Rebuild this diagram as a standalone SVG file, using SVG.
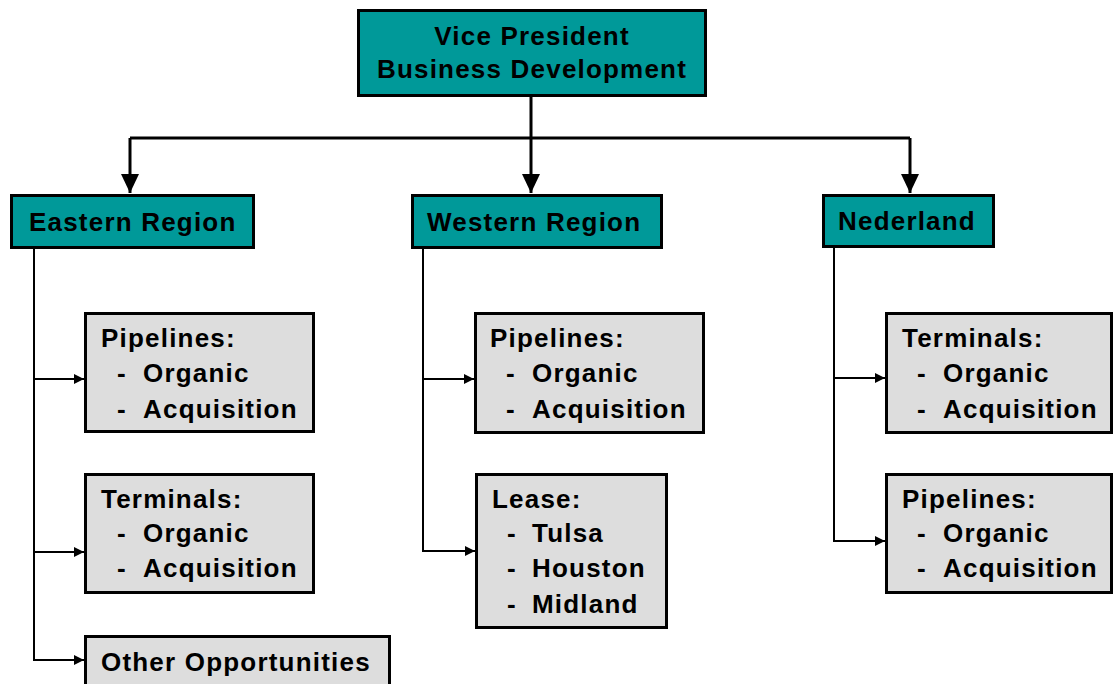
<svg xmlns="http://www.w3.org/2000/svg" width="1114" height="684" viewBox="0 0 1114 684">
<style>
.top{fill:#009999;stroke:#000;stroke-width:3}
.sub{fill:#DDDDDD;stroke:#000;stroke-width:3}
text{font-family:"Liberation Sans",Arial,sans-serif;font-weight:bold;font-size:26px;letter-spacing:1.2px;fill:#000}
.main{fill:none;stroke:#000;stroke-width:3}
.br{fill:none;stroke:#000;stroke-width:2}
</style>
<defs>
<marker id="big" markerUnits="userSpaceOnUse" markerWidth="20" markerHeight="18" refX="19" refY="9" orient="auto"><path d="M0,0 L19,9 L0,18 z" fill="#000"/></marker>
<marker id="small" markerUnits="userSpaceOnUse" markerWidth="11" markerHeight="10" refX="10" refY="5" orient="auto"><path d="M0,0 L10,5 L0,10 z" fill="#000"/></marker>
</defs>
<rect width="1114" height="684" fill="#fff"/>
<g id="connectors">
<path class="main" d="M531,97 V138 M130,138 H910"/>
<path class="main" d="M130,138 V193" marker-end="url(#big)"/>
<path class="main" d="M531,138 V193" marker-end="url(#big)"/>
<path class="main" d="M910,138 V193" marker-end="url(#big)"/>
<path class="br" d="M34,249 V660 H84" marker-end="url(#small)"/>
<path class="br" d="M34,379 H84" marker-end="url(#small)"/>
<path class="br" d="M34,552 H84" marker-end="url(#small)"/>
<path class="br" d="M423,249 V551 H475" marker-end="url(#small)"/>
<path class="br" d="M423,379 H474" marker-end="url(#small)"/>
<path class="br" d="M834,248 V541 H885" marker-end="url(#small)"/>
<path class="br" d="M834,378 H885" marker-end="url(#small)"/>
</g>
<g id="vp">
<rect class="top" x="358.5" y="10.5" width="347" height="85"/>
<text x="532" y="45" text-anchor="middle">Vice President</text>
<text x="532" y="78" text-anchor="middle">Business Development</text>
</g>
<g id="eastern">
<rect class="top" x="11.5" y="195.5" width="242" height="52"/>
<text x="29" y="231">Eastern Region</text>
</g>
<g id="western">
<rect class="top" x="412.5" y="195.5" width="249" height="52"/>
<text x="427" y="231">Western Region</text>
</g>
<g id="nederland">
<rect class="top" x="823.5" y="195.5" width="170" height="51"/>
<text x="838" y="230">Nederland</text>
</g>
<g id="east-pipelines">
<rect class="sub" x="85.5" y="313.5" width="228" height="118"/>
<text x="101" y="347">Pipelines:</text>
<text x="117" y="382">-</text><text x="143" y="382">Organic</text>
<text x="117" y="418">-</text><text x="143" y="418">Acquisition</text>
</g>
<g id="east-terminals">
<rect class="sub" x="85.5" y="474.5" width="228" height="118"/>
<text x="101" y="508">Terminals:</text>
<text x="117" y="542">-</text><text x="143" y="542">Organic</text>
<text x="117" y="577">-</text><text x="143" y="577">Acquisition</text>
</g>
<g id="east-other">
<rect class="sub" x="85.5" y="636.5" width="304" height="60"/>
<text x="101" y="671">Other Opportunities</text>
</g>
<g id="west-pipelines">
<rect class="sub" x="475.5" y="313.5" width="228" height="119"/>
<text x="490" y="347">Pipelines:</text>
<text x="506" y="382">-</text><text x="532" y="382">Organic</text>
<text x="506" y="418">-</text><text x="532" y="418">Acquisition</text>
</g>
<g id="west-lease">
<rect class="sub" x="476.5" y="474.5" width="190" height="153"/>
<text x="492" y="508">Lease:</text>
<text x="507" y="542">-</text><text x="532" y="542">Tulsa</text>
<text x="507" y="577">-</text><text x="532" y="577">Houston</text>
<text x="507" y="613">-</text><text x="532" y="613">Midland</text>
</g>
<g id="ned-terminals">
<rect class="sub" x="886.5" y="313.5" width="225" height="119"/>
<text x="902" y="347">Terminals:</text>
<text x="917" y="382">-</text><text x="943" y="382">Organic</text>
<text x="917" y="418">-</text><text x="943" y="418">Acquisition</text>
</g>
<g id="ned-pipelines">
<rect class="sub" x="886.5" y="474.5" width="225" height="118"/>
<text x="902" y="508">Pipelines:</text>
<text x="917" y="542">-</text><text x="943" y="542">Organic</text>
<text x="917" y="577">-</text><text x="943" y="577">Acquisition</text>
</g>
</svg>
